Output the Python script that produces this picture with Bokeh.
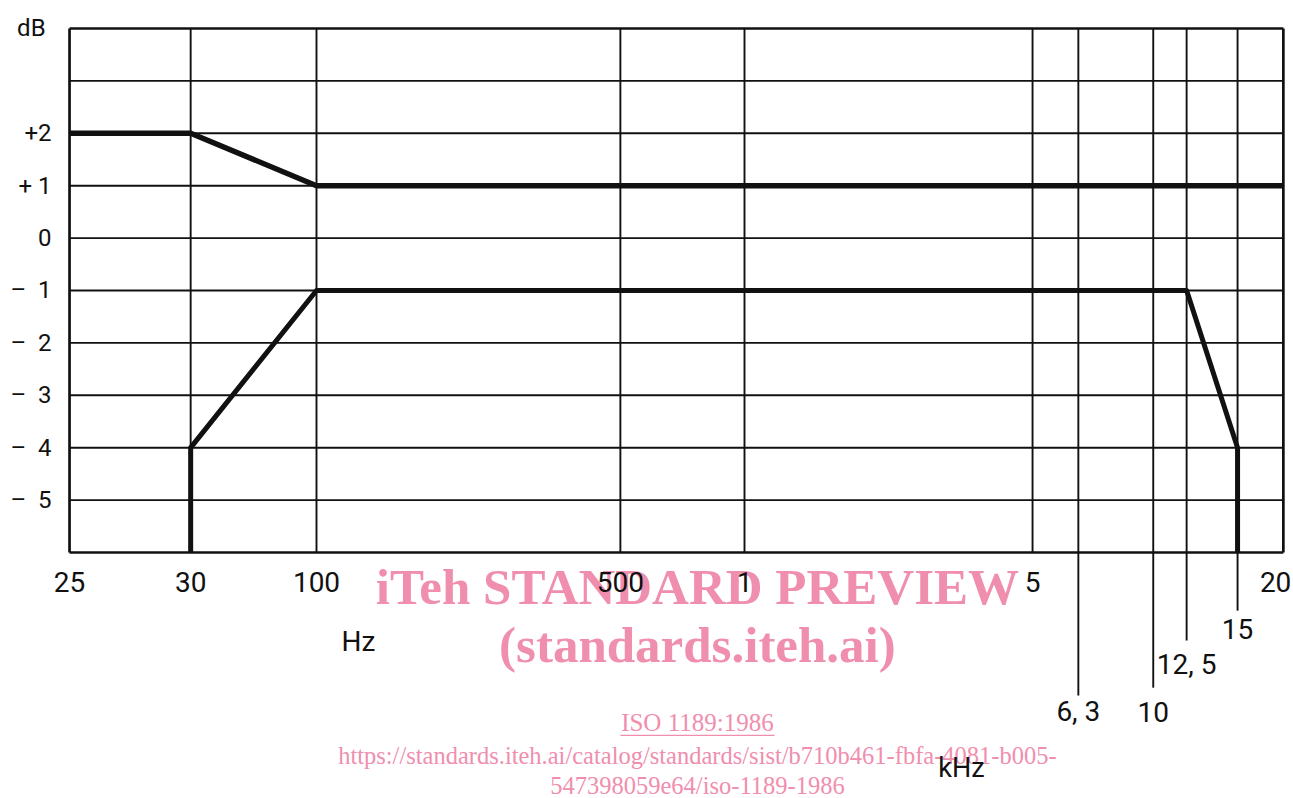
import numpy as np
from bokeh.plotting import figure
from bokeh.models import Range1d, FixedTicker
from bokeh.core.properties import value
from bokeh.embed import file_html
from bokeh.resources import INLINE

# ---------------- data ----------------
# the printed frequency axis is not a plain log axis: each labelled frequency has its
# own drawn place, given here in decades measured from 100 Hz
scale_freqs = [25, 30, 100, 500, 1000, 5000, 6300, 10000, 12500, 15000, 20000]
scale_decades = [-0.577, -0.294, 0.0, 0.710, 1.0, 1.673, 1.780, 1.955, 2.033, 2.152, 2.259]

db_levels = [-6, -5, -4, -3, -2, -1, 0, 1, 2, 3, 4]
y_tick_values = [-5, -4, -3, -2, -1, 0, 1, 2, 4]
y_tick_labels = ["–\u00a0\u00a05", "–\u00a0\u00a04", "–\u00a0\u00a03", "–\u00a0\u00a02",
                 "–\u00a0\u00a01", "0", "+\u00a01", "+2", "dB\u00a0"]

# tolerance limits
upper_freq = [25, 30, 100, 20000]
upper_db = [2, 2, 1, 1]
lower_freq = [30, 30, 100, 12500, 15000, 15000]
lower_db = [-6, -4, -1, -1, -4, -6]

x_main_freqs = [25, 30, 100, 500, 1000, 5000, 20000]
x_main_labels = ["25", "30", "100", "500", "1", "5", "20"]
x_khz_freqs = [6300, 10000, 12500, 15000]
x_khz_labels = ["6, 3", "10", "12, 5", "15"]

watermark_lines = ["iTeh STANDARD PREVIEW", "(standards.iteh.ai)", "ISO 1189:1986",
                   "https://standards.iteh.ai/catalog/standards/sist/b710b461-fbfa-4081-b005-",
                   "547398059e64/iso-1189-1986"]


def fx(f):
    return np.interp(np.log10(np.asarray(f, dtype=float)), np.log10(scale_freqs), scale_decades)


# ---------------- figure ----------------
LETTER = "Roboto"
SERIF = "Liberation Serif"
PINK = "#f08eae"
INK = "#111111"

p = figure(width=1293, height=798, output_backend="svg", toolbar_location=None,
           x_range=Range1d(-0.7383, 2.2827), y_range=Range1d(-10.695, 4.534),
           x_axis_location=None, min_border_left=0, min_border_right=0,
           min_border_top=0, min_border_bottom=0)
p.grid.visible = False
p.outline_line_color = None
p.background_fill_color = "white"
p.border_fill_color = "white"

x_left, x_right = float(fx(scale_freqs[0])), float(fx(scale_freqs[-1]))
y_bot, y_top = db_levels[0], db_levels[-1]

ax = p.yaxis[0]
ax.fixed_location = x_left
ax.ticker = FixedTicker(ticks=y_tick_values)
ax.major_label_overrides = {v: s for v, s in zip(y_tick_values, y_tick_labels)}
ax.axis_line_color = None
ax.major_tick_line_color = None
ax.minor_tick_line_color = None
ax.major_tick_out = 0
ax.major_tick_in = 0
ax.major_label_standoff = 18
ax.major_label_text_font = LETTER
ax.major_label_text_font_size = "24px"
ax.major_label_text_color = INK

# interior grid
inner_x = fx(scale_freqs[1:-1])
p.segment(x0=inner_x, y0=[y_bot] * len(inner_x), x1=inner_x, y1=[y_top] * len(inner_x),
          line_color=INK, line_width=1.9)
inner_y = db_levels[1:-1]
p.segment(x0=[x_left] * len(inner_y), y0=inner_y, x1=[x_right] * len(inner_y), y1=inner_y,
          line_color=INK, line_width=1.9)
# frame of the graph
p.segment(x0=[x_left, x_right, x_left, x_left], y0=[y_bot, y_bot, y_bot, y_top],
          x1=[x_left, x_right, x_right, x_right], y1=[y_top, y_top, y_bot, y_top],
          line_color=INK, line_width=2.7)

# kHz grid lines extended below the graph to their staggered labels
ext_end = [-8.73, -8.58, -7.68, -7.11]
lab_mid = [-9.04, -9.04, -8.13, -7.46]
kx = fx(x_khz_freqs)
p.segment(x0=kx, y0=[y_bot] * 4, x1=kx, y1=ext_end, line_color=INK, line_width=1.9)

# limit curves
p.line(fx(upper_freq), upper_db, line_color=INK, line_width=5.4, line_join="round")
p.line(fx(lower_freq), lower_db, line_color=INK, line_width=5.0, line_join="round")

# watermark
wm_x = 0.89
wm_y = [-6.65, -7.77, -9.25, -9.87, -10.44]
wm_size = ["51px", "51px", "25px", "24.5px", "24.5px"]
wm_style = ["bold", "bold", "normal", "normal", "normal"]
for t, yy, sz, st in zip(watermark_lines, wm_y, wm_size, wm_style):
    p.text(x=[wm_x], y=[yy], text=[t], text_font=value(SERIF), text_font_size=sz,
           text_font_style=st, text_color=PINK, text_align="center",
           text_baseline="middle")
p.segment(x0=[wm_x - 0.18], y0=[-9.49], x1=[wm_x + 0.18], y1=[-9.49],
          line_color=PINK, line_width=1.4)

# frequency labels
mx = fx(x_main_freqs)
p.text(x=mx[:-1], y=[-6.563] * (len(mx) - 1), text=x_main_labels[:-1], text_font=value(LETTER),
       text_font_size="28px", text_color=INK, text_align="center", text_baseline="middle")
p.text(x=mx[-1:], y=[-6.563], text=x_main_labels[-1:], text_font=value(LETTER),
       text_font_size="28px", text_color=INK, text_align="right", text_baseline="middle",
       x_offset=8)
p.text(x=kx, y=lab_mid, text=x_khz_labels, text_font=value(LETTER),
       text_font_size="28px", text_color=INK, text_align="center", text_baseline="middle")

# unit labels
p.text(x=[0.098], y=[-7.70], text=["Hz"], text_font=value(LETTER), text_font_size="28px",
       text_color=INK, text_align="center", text_baseline="middle")
p.text(x=[1.507], y=[-10.12], text=["kHz"], text_font=value(LETTER), text_font_size="27px",
       text_color=INK, text_align="center", text_baseline="middle")

open("out.html", "w").write(file_html(p, INLINE))
